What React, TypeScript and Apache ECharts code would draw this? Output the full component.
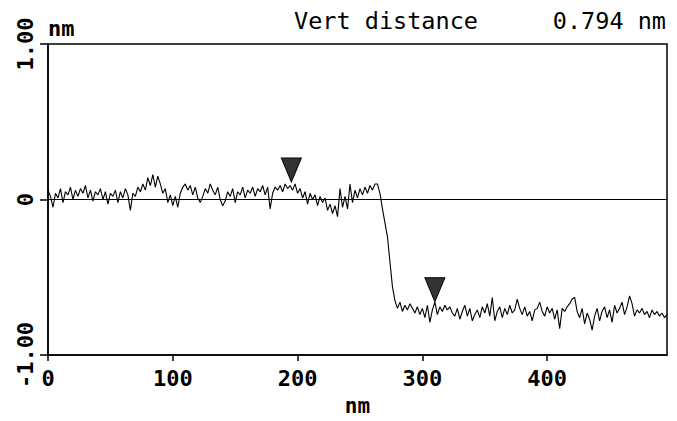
import React, { useEffect, useRef } from "react";
import * as echarts from "echarts";

// Sample spacing along the scan line (nm)
const SAMPLE_STEP_NM = 2;

// Height profile (nm), one value every 2 nm from 0 to 496 nm
const heightNm: number[] = [
  0.06, 0.02, -0.05, 0.04, 0.01, 0.07, -0.02, 0.05, 0.03, 0.08,
  0.00, 0.06, 0.02, 0.07, 0.04, 0.09, 0.01, 0.06, -0.01, 0.05,
  0.03, 0.07, 0.00, 0.05, -0.03, 0.04, 0.02, 0.06, -0.02, 0.05,
  0.01, 0.07, 0.03, -0.07, 0.04, 0.02, 0.08, 0.05, 0.10, 0.06,
  0.14, 0.09, 0.16, 0.08, 0.15, 0.10, 0.04, 0.07, -0.02, 0.03,
  -0.04, 0.02, -0.05, 0.04, 0.08, 0.10, 0.06, 0.09, 0.03, 0.08,
  0.01, -0.02, 0.02, 0.07, 0.04, 0.10, 0.06, 0.03, 0.08, 0.00,
  -0.04, -0.01, 0.05, 0.02, 0.07, -0.02, 0.05, 0.03, 0.08, 0.01,
  0.06, 0.04, 0.08, 0.02, 0.07, 0.05, 0.09, 0.03, 0.08, -0.06,
  0.04, 0.08, 0.06, 0.09, 0.05, 0.10, 0.07, 0.09, 0.06, 0.10,
  0.04, 0.07, 0.01, 0.05, -0.03, 0.04, 0.00, 0.03, -0.04, 0.02,
  -0.02, 0.01, -0.07, -0.03, -0.09, -0.04, -0.11, 0.07, -0.05, 0.02,
  -0.06, 0.10, -0.02, 0.06, 0.01, 0.07, 0.03, 0.08, 0.04, 0.09,
  0.06, 0.10, 0.10, 0.04, -0.06, -0.15, -0.24, -0.40, -0.56, -0.65,
  -0.70, -0.66, -0.72, -0.68, -0.71, -0.67, -0.70, -0.73, -0.69, -0.74,
  -0.70, -0.76, -0.68, -0.79, -0.71, -0.66, -0.74, -0.69, -0.72, -0.68,
  -0.71, -0.69, -0.73, -0.75, -0.70, -0.77, -0.72, -0.68, -0.75, -0.70,
  -0.78, -0.74, -0.71, -0.76, -0.69, -0.73, -0.67, -0.75, -0.63, -0.78,
  -0.72, -0.69, -0.76, -0.70, -0.74, -0.68, -0.73, -0.71, -0.64, -0.70,
  -0.74, -0.69, -0.75, -0.72, -0.78, -0.71, -0.70, -0.66, -0.72, -0.75,
  -0.69, -0.73, -0.70, -0.77, -0.71, -0.83, -0.70, -0.72, -0.69, -0.67,
  -0.64, -0.63, -0.72, -0.76, -0.70, -0.80, -0.73, -0.77, -0.84, -0.75,
  -0.70, -0.78, -0.72, -0.69, -0.76, -0.71, -0.79, -0.68, -0.73, -0.70,
  -0.66, -0.74, -0.69, -0.62, -0.67, -0.75, -0.71, -0.73, -0.70, -0.74,
  -0.72, -0.76, -0.71, -0.74, -0.72, -0.75, -0.73, -0.76, -0.74,
];

// Cursor markers (nm along scan, nm height where the marker is drawn)
const cursorPosNm = [195, 310];
const cursorHeightNm = [0.19, -0.58];

// Axis ticks
const xTickValues = [0, 100, 200, 300, 400];
const yTickValues = [-1, 0, 1];

const headerLabel = "Vert distance";
const headerValue = "0.794 nm";
const unitLabel = "nm";

export default function App() {
  const ref = useRef<HTMLDivElement>(null);

  useEffect(() => {
    if (!ref.current) return;
    const chart = echarts.init(ref.current, undefined, { renderer: "svg" });
    const data = heightNm.map((v, i) => [i * SAMPLE_STEP_NM, v]);
    const xMax = (heightNm.length - 1) * SAMPLE_STEP_NM;
    const mono = "'DejaVu Sans Mono', 'Liberation Mono', monospace";

    chart.setOption({
      animation: false,
      backgroundColor: "#fff",
      grid: {
        left: 48,
        right: 10,
        top: 44,
        bottom: 66,
        outerBoundsMode: "none",
        containLabel: false,
        show: true,
        borderColor: "#000",
        borderWidth: 1.5,
      },
      xAxis: {
        type: "value",
        min: 0,
        max: xMax,
        interval: 100,
        name: unitLabel,
        nameLocation: "middle",
        nameGap: 40,
        nameTextStyle: { fontFamily: mono, fontWeight: "bold", fontSize: 21, color: "#000" },
        axisLine: { show: true, onZero: false, lineStyle: { color: "#000", width: 1.5 } },
        axisTick: { show: true, length: 6, customValues: xTickValues, lineStyle: { color: "#000", width: 1.5 } },
        axisLabel: {
          customValues: xTickValues,
          margin: 12,
          fontFamily: mono,
          fontWeight: "bold",
          fontSize: 22,
          color: "#000",
        },
        splitLine: { show: false },
      },
      yAxis: {
        type: "value",
        min: -1,
        max: 1,
        interval: 1,
        name: unitLabel,
        nameLocation: "end",
        nameGap: 5,
        nameTextStyle: { fontFamily: mono, fontWeight: "bold", fontSize: 22, color: "#000", align: "left" },
        axisLine: { show: true, onZero: false, lineStyle: { color: "#000", width: 1.5 } },
        axisTick: { show: true, length: 8, customValues: yTickValues, lineStyle: { color: "#000", width: 1.5 } },
        axisLabel: {
          customValues: yTickValues,
          rotate: 90,
          margin: 12,
          fontFamily: mono,
          fontWeight: "bold",
          fontSize: 22,
          color: "#000",
          formatter: (v: number) => (v === 0 ? "0" : v.toFixed(2)),
        },
        splitLine: { show: false },
      },
      graphic: [
        {
          type: "text",
          left: 294,
          top: 9,
          style: { text: headerLabel, font: `23.5px ${mono}`, fill: "#000" },
        },
        {
          type: "text",
          right: 11,
          top: 9,
          style: { text: headerValue, font: `23.5px ${mono}`, fill: "#000" },
        },
      ],
      series: [
        {
          type: "line",
          data,
          showSymbol: false,
          symbol: "none",
          lineStyle: { color: "#000", width: 1.1 },
          markLine: {
            silent: true,
            symbol: "none",
            label: { show: false },
            lineStyle: { color: "#000", width: 1.2, type: "solid" },
            data: [{ yAxis: 0 }],
          },
          markPoint: {
            symbol: "triangle",
            symbolRotate: 180,
            symbolSize: [20, 24],
            label: { show: false },
            itemStyle: { color: "#333", borderColor: "#000", borderWidth: 1 },
            data: cursorPosNm.map((x, i) => ({ coord: [x, cursorHeightNm[i]] })),
          },
        },
      ],
    });
    return () => chart.dispose();
  }, []);

  return <div ref={ref} style={{ width: 677, height: 421, position: "absolute", left: 0, top: 0 }} />;
}
